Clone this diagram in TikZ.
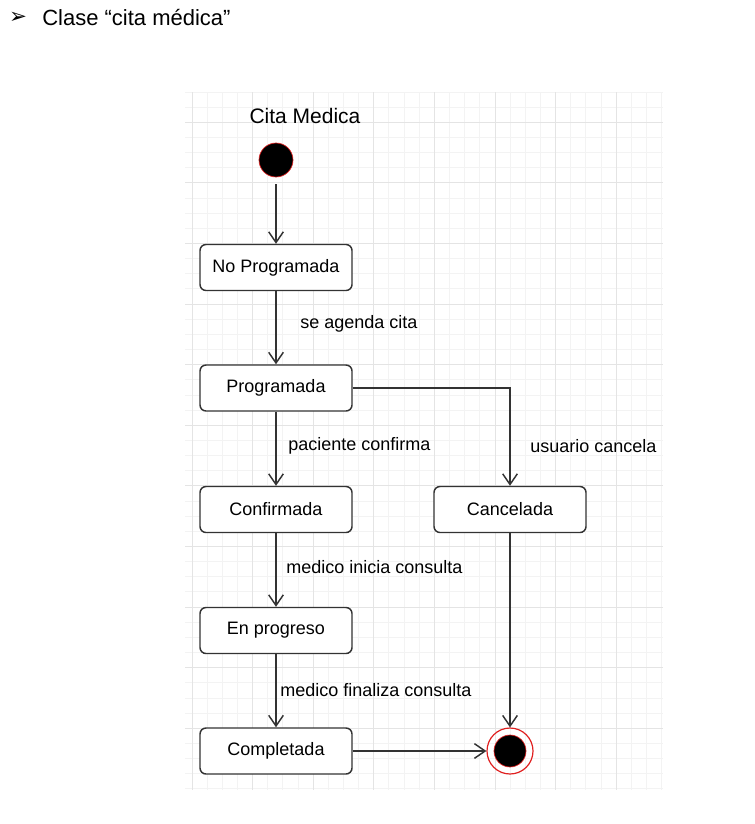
\documentclass[tikz,border=0pt]{standalone}
\usepackage{fontspec}
\setmainfont{Liberation Sans}
\newfontfamily\symfont{DejaVu Sans}
\usetikzlibrary{arrows.meta}
\definecolor{linegray}{HTML}{333333}
\definecolor{minorgrid}{HTML}{F3F3F3}
\definecolor{majorgrid}{HTML}{E4E4E4}
\definecolor{ringred}{HTML}{E02020}
\begin{document}
\begin{tikzpicture}
[
    x=0.75pt, y=-0.75pt,
    state/.style={shape=rectangle, rounded corners=4.5pt, draw=linegray, line width=1.1pt, fill=white, minimum width=114pt, minimum height=34.5pt, inner sep=0pt, font=\fontsize{13.5}{15}\selectfont},
    lbl/.style={anchor=west, inner sep=0pt, font=\fontsize{13.5}{15}\selectfont},
    trans/.style={draw=linegray, line width=1.3pt, -{Straight Barb[length=8pt, width=11pt, line width=1.1pt]}},
    minorline/.style={draw=minorgrid, line width=0.75pt},
    majorline/.style={draw=majorgrid, line width=0.75pt},
]
\useasboundingbox (0,0) rectangle (754,824);

% grid
\foreach \i in {0,...,31} \draw[minorline] ({192+15.15*\i},92) -- ({192+15.15*\i},790);
\foreach \j in {0,...,46} \draw[minorline] (185,{92+15.15*\j}) -- (663,{92+15.15*\j});
\foreach \i in {0,...,7} \draw[majorline] ({192+60.6*\i},92) -- ({192+60.6*\i},790);
\foreach \j in {0,...,10} \draw[majorline] (185,{122.3+60.6*\j}) -- (663,{122.3+60.6*\j});

\node(hdr) at (42,18) [anchor=west, inner sep=0pt, font=\fontsize{16.5}{18}\selectfont]{Clase “cita médica”};
\node(bullet) at (18,18) [inner sep=0pt, font=\symfont\fontsize{16}{17}\selectfont]{➢};
\node(title) at (305,116) [inner sep=0pt, font=\fontsize{15.75}{17}\selectfont]{Cita Medica};

\node(ini) at (276,160) [circle, fill=black, draw=ringred, line width=0.5pt, minimum size=25.5pt, inner sep=0pt]{};
\node(np) at (276,267.5) [state]{No Programada};
\node(prog) at (276,388) [state]{Programada};
\node(conf) at (276,509.5) [state]{Confirmada};
\node(canc) at (510,509.5) [state]{Cancelada};
\node(enp) at (276,630.5) [state]{En progreso};
\node(comp) at (276,751) [state]{Completada};
\node(fin) at (510,751) [circle, draw=ringred, line width=0.9pt, minimum size=34.5pt, inner sep=0pt]{};
\node(fincore) at (fin) [circle, fill=black, draw=ringred, line width=0.5pt, minimum size=24pt, inner sep=0pt]{};

\draw[trans, shorten <=5pt] (ini) to (np);
\draw[trans] (np) to (prog);
\draw[trans] (prog) to (conf);
\draw[trans] (prog.east) -| (canc.north);
\draw[trans] (conf) to (enp);
\draw[trans] (enp) to (comp);
\draw[trans] (canc) to (fin);
\draw[trans] (comp) to (fin);

\node(l1) at (300,324) [lbl]{se agenda cita};
\node(l2) at (288,446) [lbl]{paciente confirma};
\node(l3) at (530,446) [lbl]{usuario cancela};
\node(l4) at (286,567) [lbl]{medico inicia consulta};
\node(l5) at (280,690) [lbl]{medico finaliza consulta};

\end{tikzpicture}
\end{document}
